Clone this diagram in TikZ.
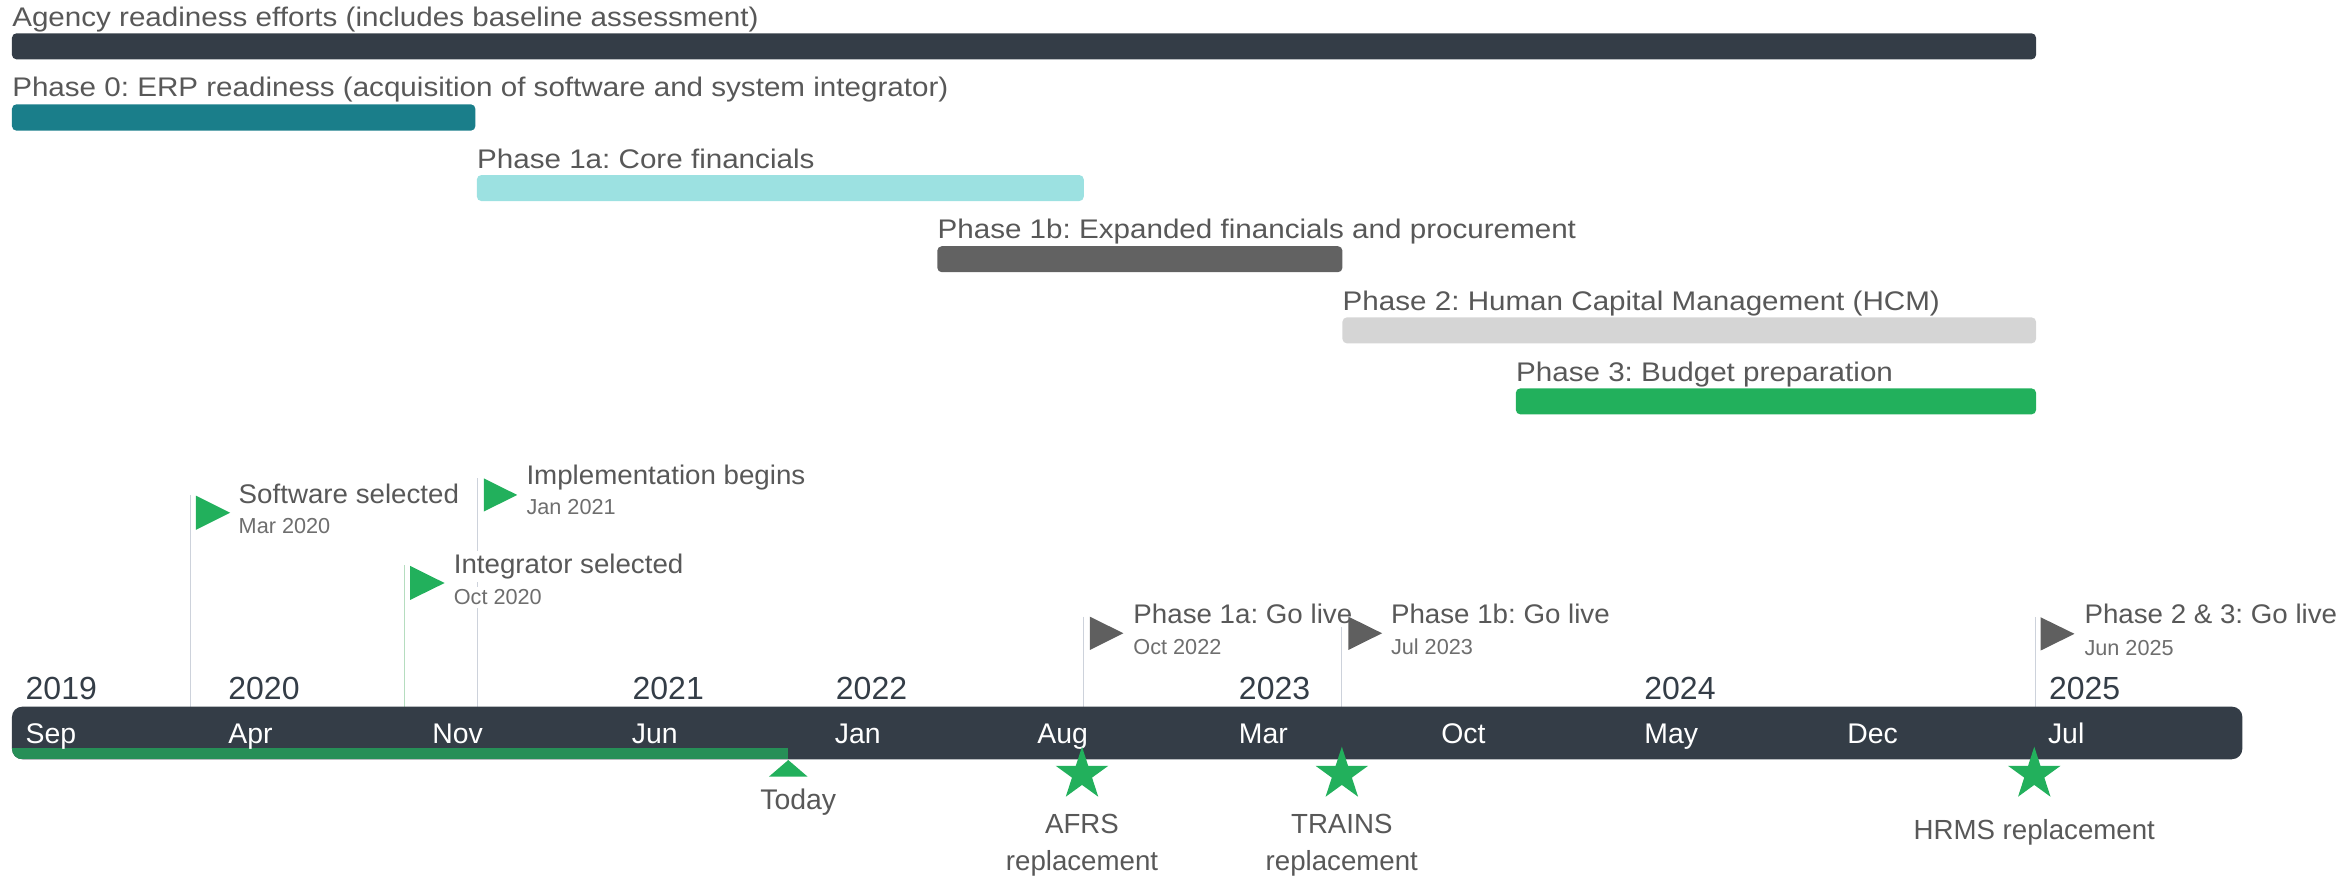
\documentclass[tikz,border=0pt]{standalone}
\usepackage{fontspec}
\setmainfont{Liberation Sans}
\newfontfamily\phasef[FakeStretch=1.1]{Liberation Sans}
\newfontfamily\mstf[FakeStretch=1.03]{Liberation Sans}
\usetikzlibrary{shapes.geometric}
\frenchspacing
\definecolor{darkc}{HTML}{343D47}
\definecolor{tealc}{HTML}{1A7E8A}
\definecolor{cyanc}{HTML}{9CE1E1}
\definecolor{dgreyc}{HTML}{626262}
\definecolor{lgreyc}{HTML}{D5D5D5}
\definecolor{greenc}{HTML}{22B05C}
\definecolor{progc}{HTML}{268F57}
\definecolor{titlec}{HTML}{585858}
\definecolor{datec}{HTML}{6E6E6E}
\definecolor{linec}{HTML}{CDD2DB}
\definecolor{glinec}{HTML}{B5DDBF}
\definecolor{flagc}{HTML}{5F5F5F}
\begin{document}
\frenchspacing
\begin{tikzpicture}[x=1pt,y=-1pt,
  bar/.style={rounded corners=3pt},
  ttl/.style={font=\phasef\fontsize{18}{20}\selectfont, text=titlec, anchor=base west, inner sep=0pt},
  mttl/.style={font=\mstf\fontsize{18}{20}\selectfont, text=titlec, anchor=base west, fill=white, inner xsep=1pt, inner ysep=2pt},
  mdate/.style={font=\fontsize{14.5}{16}\selectfont, text=datec, anchor=base west, fill=white, inner xsep=1pt, inner ysep=2pt},
  yearlbl/.style={font=\fontsize{21.4}{23}\selectfont, text=darkc, anchor=base west, inner sep=0pt},
  monlbl/.style={font=\fontsize{19}{21}\selectfont, text=white, anchor=base west, inner sep=0pt},
  mline/.style={draw=linec, line width=0.8pt},
  gline/.style={draw=glinec, line width=0.8pt},
  sflag/.style={fill=greenc},
  gflag/.style={fill=flagc},
  starshape/.style={star, star points=5, star point ratio=2.618, minimum size=37pt, inner sep=0pt, fill=greenc},
  slbl/.style={font=\fontsize{18.5}{20}\selectfont, text=titlec, anchor=base, inner sep=0pt}]
\useasboundingbox (0,0) rectangle (1568,588);

% phase bars
\fill[darkc, bar] (8,22.3) rectangle (1362,39.7);
\node[ttl] (tagency) at (8,17.4) {Agency readiness efforts (includes baseline assessment)};
\fill[tealc, bar] (8,69.8) rectangle (318,87.4);
\node[ttl] (tp0) at (8,64.7) {Phase 0: ERP readiness (acquisition of software and system integrator)};
\fill[cyanc, bar] (319,117.1) rectangle (725,134.5);
\node[ttl] (tp1a) at (319,112.4) {Phase 1a: Core financials};
\fill[dgreyc, bar] (627,164.7) rectangle (898,182.1);
\node[ttl] (tp1b) at (627,159.8) {Phase 1b: Expanded financials and procurement};
\fill[lgreyc, bar] (898,212.3) rectangle (1362,229.7);
\node[ttl] (tp2) at (898,207.4) {Phase 2: Human Capital Management (HCM)};
\fill[greenc, bar] (1014,259.8) rectangle (1362,277.2);
\node[ttl] (tp3) at (1014,254.9) {Phase 3: Budget preparation};

% milestone coordinates
\coordinate (sw1) at (127.2,331);   \coordinate (sw2) at (127.2,472.7);
\coordinate (im1) at (319.5,320);   \coordinate (im2) at (319.5,472.7);
\coordinate (in1) at (270.8,378);   \coordinate (in2) at (270.8,472.7);
\coordinate (ga1) at (725,412.5);   \coordinate (ga2) at (725,472.7);
\coordinate (gb1) at (897.6,412.5); \coordinate (gb2) at (897.6,472.7);
\coordinate (gc1) at (1361.5,412.9);\coordinate (gc2) at (1361.5,472.7);

\draw[mline] (sw1) -- (sw2);
\draw[mline] (im1) -- (im2);
\draw[gline] (in1) -- (in2);
\draw[mline] (ga1) -- (ga2);
\draw[mline] (gb1) -- (gb2);
\draw[mline] (gc1) -- (gc2);

% milestone labels
\node[mttl] (lsw) at (158.5,336.7) {Software selected};
\node[mdate] (dsw) at (158.5,356.7) {Mar 2020};
\node[mttl] (lim) at (351,324.4) {Implementation begins};
\node[mdate] (dim) at (351,344.5) {Jan 2021};
\node[mttl] (lin) at (302.4,383.5) {Integrator selected};
\node[mdate] (din) at (302.4,404.7) {Oct 2020};
\node[mttl] (lga) at (757,417) {Phase 1a: Go live};
\node[mdate] (dga) at (757,438) {Oct 2022};
\node[mttl] (lgb) at (929.3,417) {Phase 1b: Go live};
\node[mdate] (dgb) at (929.3,438) {Jul 2023};
\node[mttl] (lgc) at (1393.2,417.3) {Phase 2 \& 3: Go live};
\node[mdate] (dgc) at (1393.2,438.3) {Jun 2025};

% flags
\fill[sflag] (131,331.5) -- (154,343) -- (131,354.5) -- cycle;
\fill[sflag] (323.6,320) -- (346,331.1) -- (323.6,342.2) -- cycle;
\fill[sflag] (274.4,378.6) -- (297.4,390) -- (274.4,401.3) -- cycle;
\fill[gflag] (729,412.5) -- (751.5,423.6) -- (729,434.8) -- cycle;
\fill[gflag] (902,412.5) -- (924.5,423.6) -- (902,434.8) -- cycle;
\fill[gflag] (1365,412.9) -- (1387.7,424) -- (1365,435.2) -- cycle;

% timeline
\fill[darkc, rounded corners=7pt] (8,472.7) rectangle (1500,507.9);
\begin{scope}
\clip[rounded corners=7pt] (8,472.7) rectangle (1500,507.9);
\fill[progc] (8,500.6) rectangle (527.3,507.9);
\end{scope}

% years
\node[yearlbl] (y19) at (17,467.8) {2019};
\node[yearlbl] (y20) at (152.6,467.8) {2020};
\node[yearlbl] (y21) at (423,467.8) {2021};
\node[yearlbl] (y22) at (559,467.8) {2022};
\node[yearlbl] (y23) at (828.6,467.8) {2023};
\node[yearlbl] (y24) at (1099.8,467.8) {2024};
\node[yearlbl] (y25) at (1370.5,467.8) {2025};

% months
\node[monlbl] (m1) at (17,497.6) {Sep};
\node[monlbl] (m2) at (152.6,497.6) {Apr};
\node[monlbl] (m3) at (289,497.6) {Nov};
\node[monlbl] (m4) at (422.5,497.6) {Jun};
\node[monlbl] (m5) at (558.3,497.6) {Jan};
\node[monlbl] (m6) at (693.8,497.6) {Aug};
\node[monlbl] (m7) at (828.6,497.6) {Mar};
\node[monlbl] (m8) at (964,497.6) {Oct};
\node[monlbl] (m9) at (1099.8,497.6) {May};
\node[monlbl] (m10) at (1235.5,497.6) {Dec};
\node[monlbl] (m11) at (1369.8,497.6) {Jul};

% today
\fill[greenc] (514.4,519.5) -- (527.3,508.4) -- (540.2,519.5) -- cycle;
\node[font=\fontsize{19}{21}\selectfont, text=titlec, anchor=base, inner sep=0pt] (today) at (534,541.8) {Today};

% stars
\node[starshape] (safrs) at (723.8,518) {};
\node[starshape] (strains) at (897.6,518) {};
\node[starshape] (shrms) at (1360.8,518) {};
\node[slbl] (lafrs1) at (723.8,557.4) {AFRS};
\node[slbl] (lafrs2) at (723.8,582) {replacement};
\node[slbl] (ltr1) at (897.6,557.4) {TRAINS};
\node[slbl] (ltr2) at (897.6,582) {replacement};
\node[slbl] (lhr) at (1360.8,561.9) {HRMS replacement};
\end{tikzpicture}
\end{document}
